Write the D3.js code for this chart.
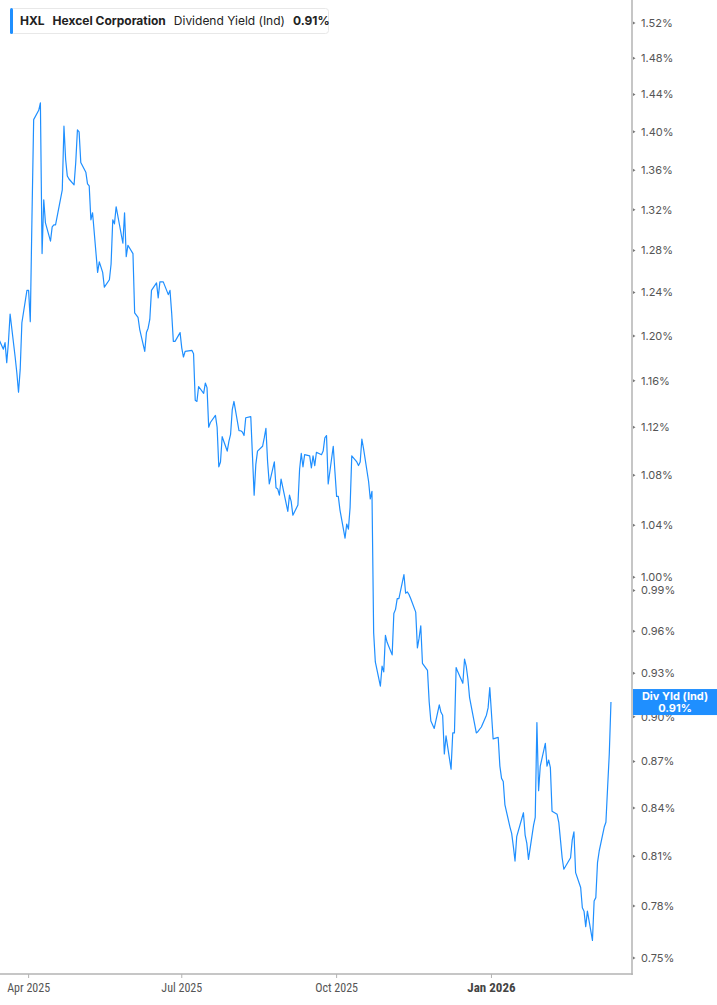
<!DOCTYPE html>
<html>
<head>
<meta charset="utf-8">
<script src="https://cdn.jsdelivr.net/npm/d3@7"></script>
<style>
  html, body { margin: 0; padding: 0; background: #fff; }
  svg { display: block; }
</style>
</head>
<body>
<svg id="chart" width="717" height="1005"></svg>
<script>
// ---------- data ----------
const ticker = "HXL";
const company = "Hexcel Corporation";
const metric = "Dividend Yield (Ind)";
const lastLabel = "0.91%";

// first trading day of the series, then one value per trading day
const startDay = "2025-03-14";
const marketHolidays = [
    "2025-04-18", "2025-05-26", "2025-06-19", "2025-07-04", "2025-09-01",
    "2025-11-27", "2025-12-25", "2026-01-01", "2026-01-19", "2026-02-16"
];

// dividend yield in percent
const yieldValues = [
    1.198, 1.188, 1.194, 1.176, 1.194, 1.220, 1.181, 1.167, 1.150, 1.170,
    1.212, 1.242, 1.242, 1.213, 1.313, 1.413, 1.423, 1.431, 1.277, 1.330,
    1.307, 1.289, 1.303, 1.305, 1.305, 1.340, 1.406, 1.371, 1.354, 1.351,
    1.345, 1.368, 1.402, 1.400, 1.368, 1.358, 1.346, 1.344, 1.310, 1.317,
    1.259, 1.269, 1.264, 1.259, 1.245, 1.252, 1.267, 1.310, 1.306, 1.323,
    1.287, 1.317, 1.274, 1.285, 1.277, 1.221, 1.219, 1.217, 1.206, 1.186,
    1.203, 1.207, 1.215, 1.242, 1.249, 1.235, 1.250, 1.250, 1.238, 1.242,
    1.221, 1.195, 1.195, 1.203, 1.189, 1.181, 1.186, 1.187, 1.184, 1.143,
    1.142, 1.155, 1.149, 1.158, 1.154, 1.120, 1.124, 1.130, 1.120, 1.087,
    1.091, 1.112, 1.100, 1.108, 1.114, 1.135, 1.142, 1.117, 1.117, 1.116,
    1.113, 1.128, 1.129, 1.096, 1.064, 1.089, 1.100, 1.104, 1.111, 1.119,
    1.091, 1.073, 1.091, 1.070, 1.069, 1.064, 1.077, 1.051, 1.064, 1.059,
    1.048, 1.056, 1.085, 1.098, 1.087, 1.097, 1.096, 1.086, 1.096, 1.088,
    1.099, 1.097, 1.100, 1.111, 1.113, 1.073, 1.104, 1.083, 1.063, 1.063,
    1.052, 1.030, 1.041, 1.037, 1.054, 1.096, 1.091, 1.088, 1.091, 1.110,
    1.102, 1.075, 1.061, 1.067, 0.959, 0.938, 0.921, 0.935, 0.931, 0.957,
    0.952, 0.943, 0.973, 0.976, 0.984, 0.984, 1.002, 0.988, 0.989, 0.987,
    0.984, 0.974, 0.948, 0.955, 0.964, 0.937, 0.932, 0.910, 0.897, 0.892,
    0.908, 0.903, 0.901, 0.875, 0.887, 0.865, 0.889, 0.889, 0.934, 0.931,
    0.923, 0.940, 0.935, 0.926, 0.913, 0.895, 0.889, 0.890, 0.893, 0.901,
    0.906, 0.920, 0.885, 0.886, 0.867, 0.859, 0.857, 0.842, 0.828, 0.824,
    0.816, 0.807, 0.822, 0.837, 0.823, 0.818, 0.808, 0.829, 0.834, 0.896,
    0.851, 0.867, 0.882, 0.867, 0.871, 0.866, 0.838, 0.836, 0.831, 0.820,
    0.809, 0.802, 0.809, 0.820, 0.825, 0.800, 0.791, 0.779, 0.777, 0.768,
    0.777, 0.760, 0.783, 0.785, 0.806, 0.813, 0.828, 0.831, 0.853, 0.875,
    0.910
];

const yTickValues = [0.75, 0.78, 0.81, 0.84, 0.87, 0.90, 0.93, 0.96, 0.99, 1.00,
    1.04, 1.08, 1.12, 1.16, 1.20, 1.24, 1.28, 1.32, 1.36, 1.40, 1.44, 1.48, 1.52];
const xTickDates = ["2025-04-01", "2025-07-01", "2025-10-01", "2026-01-01"];
const xTickLabels = ["Apr 2025", "Jul 2025", "Oct 2025", "Jan 2026"];

// ---------- build trading-day dates ----------
const parseDay = d3.utcParse("%Y-%m-%d");
const fmtDay = d3.utcFormat("%Y-%m-%d");
const holidaySet = new Set(marketHolidays);
const series = [];
let day = parseDay(startDay);
while (series.length < yieldValues.length) {
    const wd = day.getUTCDay();
    if (wd !== 0 && wd !== 6 && !holidaySet.has(fmtDay(day))) {
        series.push({ date: day, value: yieldValues[series.length] });
    }
    day = d3.utcDay.offset(day, 1);
}

// ---------- layout ----------
const plotRight = 632;
const plotBottom = 974;
const axisColor = "#b3b3b3";
const lineColor = "#1f8fff";

const svg = d3.select("#chart");

const x = d3.scaleUtc()
    .domain([Date.UTC(2025, 2, 15, 0), Date.UTC(2026, 2, 25, 12)])
    .range([0, plotRight]);

const y = d3.scaleLog()
    .domain([0.75, 1.52])
    .range([958, 23]);

svg.append("clipPath").attr("id", "plotclip")
    .append("rect").attr("x", 0).attr("y", 0)
    .attr("width", plotRight).attr("height", plotBottom);

// ---------- line ----------
const line = d3.line()
    .x(d => x(d.date))
    .y(d => y(d.value));

svg.append("path")
    .datum(series)
    .attr("clip-path", "url(#plotclip)")
    .attr("fill", "none")
    .attr("stroke", lineColor)
    .attr("stroke-width", 1.2)
    .attr("stroke-linejoin", "round")
    .attr("d", line);

// ---------- right axis ----------
const yAxis = svg.append("g").attr("transform", `translate(${plotRight},0)`);
yAxis.append("line")
    .attr("x1", 0).attr("x2", 0).attr("y1", 0).attr("y2", plotBottom + 1)
    .attr("stroke", axisColor).attr("stroke-width", 1.5);

const yt = yAxis.selectAll("g.yt").data(yTickValues).enter()
    .append("g").attr("class", "yt")
    .attr("transform", d => `translate(0,${y(d)})`);
yt.append("path")
    .attr("d", "M1,-1.5L3.5,0L1,1.5Z")
    .attr("fill", "#777");
yt.append("text")
    .attr("x", 9).attr("dy", "0.35em")
    .attr("font-family", "Inter, Roboto, sans-serif")
    .attr("font-size", 11)
    .attr("fill", "#555")
    .text(d => d.toFixed(2) + "%");

// ---------- bottom axis ----------
const xAxis = svg.append("g").attr("transform", `translate(0,${plotBottom})`);
xAxis.append("line")
    .attr("x1", 0).attr("x2", plotRight + 0.75).attr("y1", 0).attr("y2", 0)
    .attr("stroke", axisColor).attr("stroke-width", 1.5);

const xt = xAxis.selectAll("g.xt").data(xTickDates).enter()
    .append("g").attr("class", "xt")
    .attr("transform", d => `translate(${x(parseDay(d))},0)`);
xt.append("line")
    .attr("y1", 0).attr("y2", 4)
    .attr("stroke", axisColor).attr("stroke-width", 1);
xt.append("text")
    .attr("y", 18)
    .attr("text-anchor", "middle")
    .attr("font-family", "'Liberation Sans Narrow', 'Roboto Condensed', Roboto, sans-serif")
    .attr("font-size", (d, i) => i === 3 ? 13 : 12)
    .attr("font-weight", (d, i) => i === 3 ? "bold" : "normal")
    .attr("fill", (d, i) => i === 3 ? "#444" : "#555")
    .text((d, i) => xTickLabels[i]);

// ---------- last value badge ----------
const last = series[series.length - 1];
const badge = svg.append("g").attr("transform", `translate(${plotRight + 1},${y(last.value)})`);
badge.append("rect")
    .attr("x", 0).attr("y", -13).attr("width", 84).attr("height", 26)
    .attr("fill", "#1f8fff");
badge.append("text")
    .attr("x", 42).attr("y", -2)
    .attr("text-anchor", "middle")
    .attr("font-family", "Inter, Roboto, sans-serif")
    .attr("font-size", 11).attr("font-weight", "bold")
    .attr("fill", "#fff")
    .text("Div Yld (Ind)");
badge.append("text")
    .attr("x", 42).attr("y", 10)
    .attr("text-anchor", "middle")
    .attr("font-family", "Inter, Roboto, sans-serif")
    .attr("font-size", 11).attr("font-weight", "bold")
    .attr("fill", "#fff")
    .text(lastLabel);

// ---------- legend box ----------
const legend = svg.append("g").attr("transform", "translate(10,8)");
legend.append("rect")
    .attr("x", 0.5).attr("y", 0.5).attr("width", 318).attr("height", 25).attr("rx", 3)
    .attr("fill", "#fff").attr("stroke", "#e8e8e8");
legend.append("rect")
    .attr("x", 0).attr("y", 0).attr("width", 3).attr("height", 26).attr("rx", 1.5)
    .attr("fill", lineColor);
const legendText = legend.append("text")
    .attr("x", 10).attr("y", 17)
    .attr("font-family", "Inter, Roboto, sans-serif")
    .attr("font-size", 12)
    .attr("fill", "#222");
legendText.append("tspan").attr("font-weight", "bold").text(ticker);
legendText.append("tspan").attr("dx", 8).attr("font-weight", "bold").text(company);
legendText.append("tspan").attr("dx", 8).attr("font-weight", "normal").text(metric);
legendText.append("tspan").attr("dx", 8).attr("font-weight", "bold").text(lastLabel);
</script>
</body>
</html>
